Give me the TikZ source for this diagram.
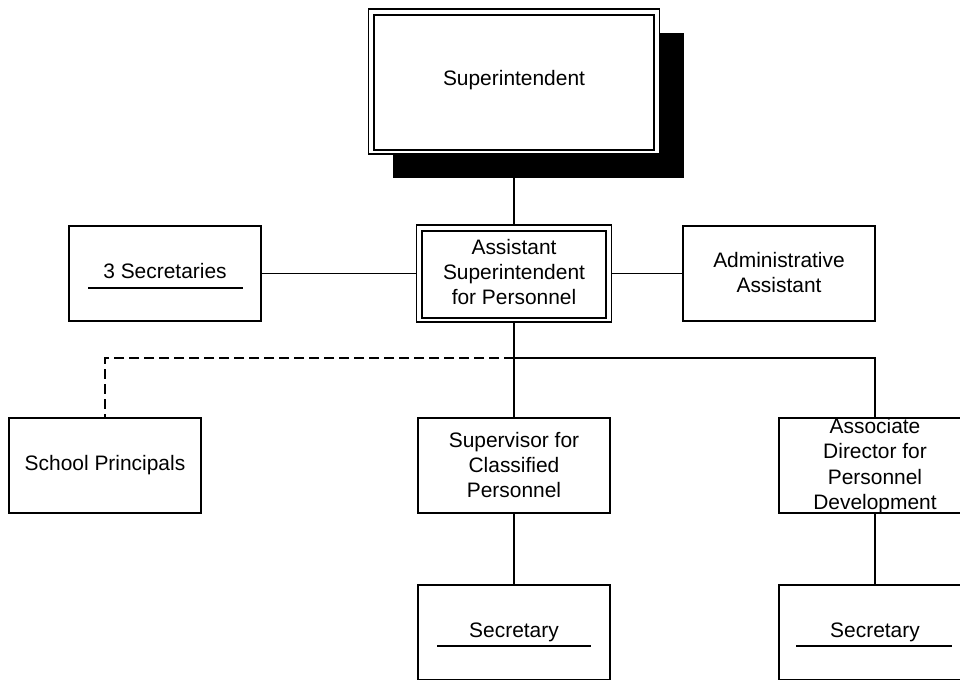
\documentclass[tikz,border=0pt]{standalone}
\usepackage{fontspec}
\setmainfont{Liberation Sans}
\begin{document}
\begin{tikzpicture}[x=0.75pt,y=-0.75pt,
  every node/.style={inner sep=0pt, outer sep=0pt},
  lbl/.style={font=\fontsize{15.7pt}{18.75pt}\selectfont, align=center},
  unitbox/.style={draw, line width=1.1pt, fill=white, minimum width=144pt, minimum height=71.25pt},
  wire/.style={line width=1.1pt},
  dotted link/.style={line width=1.1pt, dash pattern=on 7.5pt off 3.75pt}
]
\useasboundingbox (0,0) rectangle (960,679);
\clip (0,0) rectangle (960,679);

% Superintendent with drop shadow and double frame
\node[fill=black, minimum width=218.25pt, minimum height=108.75pt] (supshadow) at (538,105.5) {};
\node[draw, line width=1.3pt, fill=white, minimum width=218.25pt, minimum height=108.75pt] (sup) at (514,81.5) {};
\node[draw, line width=1.3pt, minimum width=210pt, minimum height=101.25pt] (supin) at (514,82.5) {};
\node[lbl] (suptxt) at (514,80) {Superintendent};

% Assistant superintendent, double frame
\node[draw, line width=1.1pt, fill=white, minimum width=146.25pt, minimum height=72.75pt] (asst) at (514,273.5) {};
\node[draw, line width=1.1pt, minimum width=138pt, minimum height=65.25pt] (asstin) at (514,274.5) {};
\node[lbl] (assttxt) at (514,272) {Assistant\\Superintendent\\for Personnel};

% Staff boxes
\node[unitbox] (sec3) at (165,273.5) {};
\node[lbl] (sec3txt) at (165,271) {3 Secretaries};
\node[unitbox] (admin) at (779,273.5) {};
\node[lbl] (admintxt) at (779,273) {Administrative\\Assistant};

% Second level
\node[unitbox] (prin) at (105,465.5) {};
\node[lbl] (printxt) at (105,465.5) {School Principals};
\node[unitbox] (supv) at (514,465.5) {};
\node[lbl] (supvtxt) at (514,465.5) {Supervisor for\\Classified\\Personnel};
\node[unitbox] (assoc) at (875,465.5) {};
\node[lbl, font=\fontsize{15.7pt}{19pt}\selectfont] (assoctxt) at (875,466) {Associate\\Director for\\Personnel\\Development};

% Third level
\node[unitbox] (secA) at (514,632.5) {};
\node[lbl] (secAtxt) at (514,632) {Secretary};
\node[unitbox] (secB) at (875,632.5) {};
\node[lbl] (secBtxt) at (875,632) {Secretary};

% Underlines inside the secretary boxes
\draw[wire] ([shift={(19,-33)}]sec3.south west) -- ([shift={(-18,-33)}]sec3.south east);
\draw[wire] ([shift={(19,61)}]secA.north west) -- ([shift={(-19,61)}]secA.north east);
\draw[wire] ([shift={(17,61)}]secB.north west) -- ([shift={(-19,61)}]secB.north east);

% Connectors
\coordinate (bus) at (514,358);
\draw[wire] (supshadow.south -| sup.south) -- (asst.north);
\draw[wire] (asst.west) -- (sec3.east);
\draw[wire] (asst.east) -- (admin.west);
\draw[wire] (asst.south) -- (bus);
\draw[wire] (bus) -- (supv.north);
\draw[wire] (bus) -| (assoc.north);
\draw[dotted link] (bus) -| (prin.north);
\draw[wire] (supv.south) -- (secA.north);
\draw[wire] (assoc.south) -- (secB.north);
\end{tikzpicture}
\end{document}
